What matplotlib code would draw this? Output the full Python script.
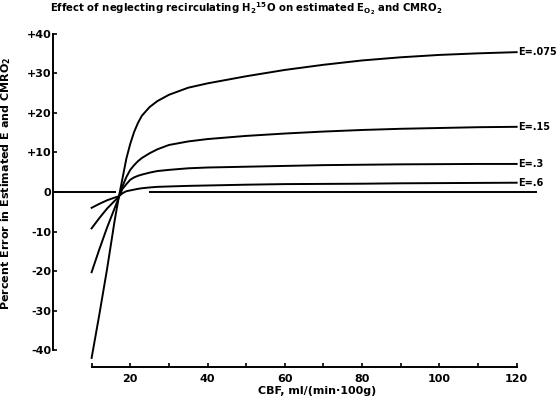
import matplotlib
matplotlib.use("Agg")
import matplotlib.pyplot as plt

# CBF values (ml/(min*100g))
cbf = [10, 12, 14, 16, 17, 18, 19, 20, 21, 22, 23, 25, 27, 30, 35, 40, 50, 60, 70, 80, 90, 100, 110, 120]

# percent error for each extraction fraction
err_075 = [-42, -31, -19.5, -7, -1.5, 3.5, 8.5, 12.2, 15.2, 17.5, 19.3, 21.5, 23, 24.6, 26.4, 27.5,
           29.3, 30.9, 32.2, 33.3, 34.1, 34.7, 35.1, 35.4]
err_15 = [-20.3, -14.5, -9, -4, -1.5, 1.5, 3.8, 5.6, 6.8, 7.8, 8.6, 9.8, 10.8, 11.9, 12.8, 13.4,
          14.2, 14.8, 15.3, 15.7, 16.0, 16.2, 16.4, 16.5]
err_3 = [-9.2, -6.6, -4.2, -2.2, -1.3, 0.8, 2, 3.1, 3.7, 4.1, 4.4, 4.9, 5.3, 5.6, 6, 6.2,
         6.4, 6.6, 6.8, 6.9, 7, 7.05, 7.1, 7.1]
err_6 = [-4, -3, -2.1, -1.4, -1.1, -0.3, 0.2, 0.4, 0.6, 0.8, 0.95, 1.15, 1.3, 1.4, 1.55, 1.65,
         1.85, 2.0, 2.05, 2.1, 2.2, 2.25, 2.3, 2.35]

labels = ["E=.075", "E=.15", "E=.3", "E=.6"]
series = [err_075, err_15, err_3, err_6]

# zero reference line pieces
zero_left = [0, 16]
zero_right = [25, 125]

yticks = [40, 30, 20, 10, 0, -10, -20, -30, -40]
ytick_labels = ["+40", "+30", "+20", "+10", "0", "-10", "-20", "-30", "-40"]
xticks = [10, 20, 30, 40, 50, 60, 70, 80, 90, 100, 110, 120]
xtick_labels = ["", "20", "", "40", "", "60", "", "80", "", "100", "", "120"]

plt.rcParams["font.family"] = ["DejaVu Sans"]
plt.rcParams["font.weight"] = "bold"
plt.rcParams["mathtext.default"] = "bf"

fig = plt.figure(figsize=(5.6, 4.0), dpi=100)
ax = fig.add_axes([0.0946, 0.0825, 0.897, 0.8523])

for vals, lab in zip(series, labels):
    ax.plot(cbf, vals, color="black", lw=1.4)
    ax.text(cbf[-1] + 0.3, vals[-1], lab, va="center", ha="left", fontsize=7, fontweight="bold")

ax.plot(zero_left, [0, 0], color="black", lw=1.4)
ax.plot(zero_right, [0, 0], color="black", lw=1.4)

ax.set_xlim(0, 130)
ax.set_ylim(-44.3, 42)

for side in ["top", "right"]:
    ax.spines[side].set_visible(False)
ax.spines["left"].set_bounds(-40, 40)
ax.spines["bottom"].set_bounds(10, 120)
ax.spines["left"].set_linewidth(1.4)
ax.spines["bottom"].set_linewidth(1.4)

ax.set_yticks(yticks)
ax.set_yticklabels(ytick_labels, fontsize=8, fontweight="bold")
ax.set_xticks(xticks)
ax.set_xticklabels(xtick_labels, fontsize=8, fontweight="bold")
ax.tick_params(axis="y", direction="in", length=3, width=1.2, pad=1)
ax.tick_params(axis="x", direction="in", length=3, width=1.2, pad=5)

ax.set_xlabel("CBF, ml/(min\u00b7100g)", fontsize=8, fontweight="bold")
ax.xaxis.set_label_coords(0.526, -0.056)
ax.set_ylabel("Percent Error in Estimated E and CMRO$_2$", fontsize=8, fontweight="bold")
ax.yaxis.set_label_coords(-0.08, 0.54)

fig.text(0.089, 0.978,
         "Effect of neglecting recirculating H$_2$$^{15}$O on estimated E$_{O_2}$ and CMRO$_2$",
         ha="left", va="center", fontsize=7.3, fontweight="bold")

fig.savefig("out.png", dpi=100)
